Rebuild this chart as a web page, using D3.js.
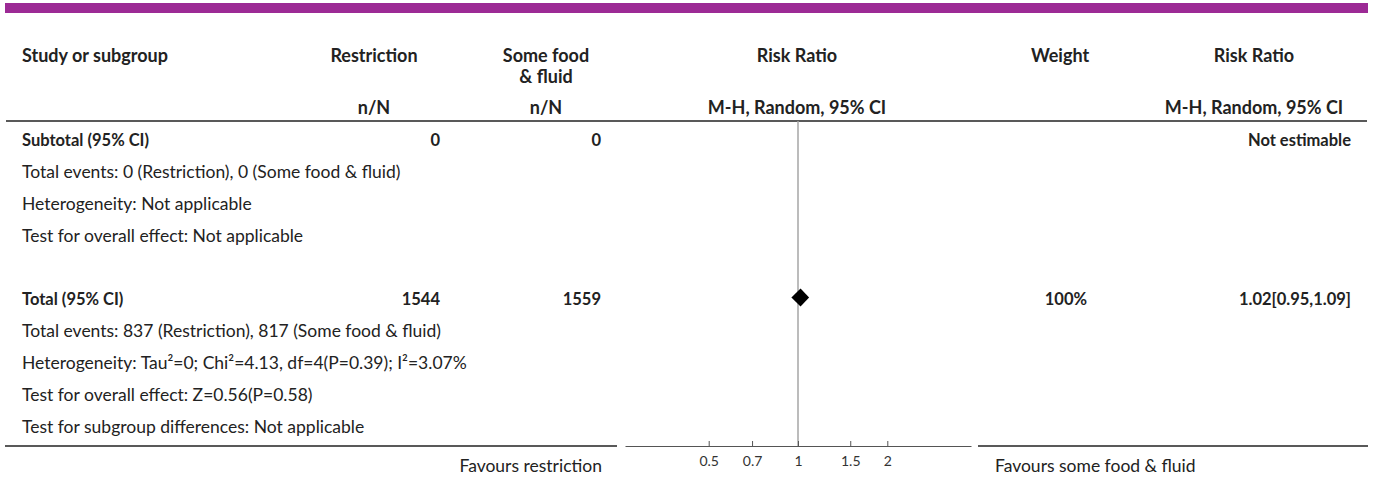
<!DOCTYPE html>
<html>
<head>
<meta charset="utf-8">
<script src="https://cdnjs.cloudflare.com/ajax/libs/d3/7.8.5/d3.min.js"></script>
<style>
  body { margin: 0; background: #fff; }
  text { font-family: Lato, "Noto Sans", sans-serif; fill: #222; }
  .hdr { font-weight: bold; font-size: 18px; }
  .cell { font-size: 17.5px; }
  .bold { font-weight: bold; font-size: 16.5px; }
  .tick text { font-size: 14px; fill: #333; }
</style>
</head>
<body>
<div id="forest"></div>
<script>

// Data
// ==============================
var rowLabels = [
  "Subtotal (95% CI)",
  "Total events: 0 (Restriction), 0 (Some food & fluid)",
  "Heterogeneity: Not applicable",
  "Test for overall effect: Not applicable",
  "",
  "Total (95% CI)",
  "Total events: 837 (Restriction), 817 (Some food & fluid)",
  "Heterogeneity: Tau\u00b2=0; Chi\u00b2=4.13, df=4(P=0.39); I\u00b2=3.07%",
  "Test for overall effect: Z=0.56(P=0.58)",
  "Test for subgroup differences: Not applicable"
];
var rowBold = [true, false, false, false, false, true, false, false, false, false];
var restrictionN = ["0", "", "", "", "", "1544", "", "", "", ""];
var someFoodN = ["0", "", "", "", "", "1559", "", "", "", ""];
var weights = ["", "", "", "", "", "100%", "", "", "", ""];
var rrText = ["Not estimable", "", "", "", "", "1.02[0.95,1.09]", "", "", "", ""];

// pooled estimates (row index, estimate, lower, upper)
var pooledRow = [5];
var pooledEst = [1.02];
var pooledLow = [0.95];
var pooledHigh = [1.09];

var tickValues = [0.5, 0.7, 1, 1.5, 2];
var favourLeft = "Favours restriction";
var favourRight = "Favours some food & fluid";

// Layout
// ==============================
var svgWidth = 1373;
var svgHeight = 477;

var svg = d3.select("#forest")
  .append("svg")
  .attr("width", svgWidth)
  .attr("height", svgHeight);

// purple band on top
svg.append("rect")
  .attr("x", 5).attr("y", 3)
  .attr("width", 1363).attr("height", 10)
  .attr("fill", "#9c2a95");

// column positions
var col = {
  study: 22,
  restrHead: 374, restrVal: 440,
  foodHead: 546, foodVal: 601,
  plot: 797,
  weightHead: 1060, weightVal: 1087,
  rrHead: 1254, rrVal: 1351
};

// Header
// ==============================
var head = svg.append("g");
function hText(x, y, t, anchor) {
  head.append("text")
    .attr("x", x).attr("y", y)
    .attr("dy", "0.35em")
    .attr("text-anchor", anchor || "middle")
    .attr("class", "hdr")
    .text(t);
}
hText(col.study, 56, "Study or subgroup", "start");
hText(col.restrHead, 56, "Restriction");
hText(col.foodHead, 56, "Some food");
hText(col.foodHead, 77, "& fluid");
hText(col.plot, 56, "Risk Ratio");
hText(col.weightHead, 56, "Weight");
hText(col.rrHead, 56, "Risk Ratio");
hText(col.restrHead, 108, "n/N");
hText(col.foodHead, 108, "n/N");
hText(col.plot, 108, "M-H, Random, 95% CI");
hText(col.rrHead, 108, "M-H, Random, 95% CI");

svg.append("line")
  .attr("x1", 6).attr("x2", 1367)
  .attr("y1", 121).attr("y2", 121)
  .attr("stroke", "#222").attr("stroke-width", 1.4);

// Scales
// ==============================
var plotLeft = 625, plotRight = 971;
var xScale = d3.scaleLog()
  .domain([1 / 3.83, 3.83])
  .range([plotLeft, plotRight]);

var yScale = d3.scaleLinear()
  .domain([0, rowLabels.length - 1])
  .range([140, 427]);

var axisY = 446;

// reference line at 1
svg.append("line")
  .attr("x1", xScale(1)).attr("x2", xScale(1))
  .attr("y1", 121).attr("y2", axisY)
  .attr("stroke", "#a6a6a6").attr("stroke-width", 1.5);

// Rows
// ==============================
var rowsG = svg.append("g");

rowsG.selectAll(".lbl")
  .data(rowLabels)
  .enter()
  .append("text")
  .attr("class", (d, i) => rowBold[i] ? "cell bold" : "cell")
  .attr("x", col.study)
  .attr("y", (d, i) => yScale(i))
  .attr("dy", "0.35em")
  .text(d => d);

function valueColumn(values, x) {
  rowsG.selectAll(null)
    .data(values)
    .enter()
    .append("text")
    .attr("class", "cell bold")
    .attr("x", x)
    .attr("y", (d, i) => yScale(i))
    .attr("dy", "0.35em")
    .attr("text-anchor", "end")
    .text(d => d);
}
valueColumn(restrictionN, col.restrVal);
valueColumn(someFoodN, col.foodVal);
valueColumn(weights, col.weightVal);
valueColumn(rrText, col.rrVal);

// Pooled diamonds
// ==============================
svg.selectAll(".diamond")
  .data(pooledRow)
  .enter()
  .append("path")
  .attr("class", "diamond")
  .attr("fill", "#000")
  .attr("d", function(r, i) {
    var y = yScale(r) - 2;
    return "M" + xScale(pooledLow[i]) + "," + y +
      "L" + xScale(pooledEst[i]) + "," + (y - 9) +
      "L" + xScale(pooledHigh[i]) + "," + y +
      "L" + xScale(pooledEst[i]) + "," + (y + 9) + "Z";
  });

// Bottom rule and axis
// ==============================
svg.append("line")
  .attr("x1", 5).attr("x2", 617)
  .attr("y1", axisY).attr("y2", axisY)
  .attr("stroke", "#222").attr("stroke-width", 1.4);
svg.append("line")
  .attr("x1", 978).attr("x2", 1368)
  .attr("y1", axisY).attr("y2", axisY)
  .attr("stroke", "#222").attr("stroke-width", 1.4);

var bottomAxis = d3.axisBottom(xScale)
  .tickValues(tickValues)
  .tickFormat(d3.format("~g"))
  .tickSize(-5)
  .tickSizeOuter(0)
  .tickPadding(10);

var axisG = svg.append("g")
  .attr("transform", `translate(0, ${axisY})`)
  .call(bottomAxis);
axisG.select(".domain").attr("stroke", "#555");
axisG.selectAll(".tick line").attr("stroke", "#555");
axisG.selectAll(".tick text").attr("font-family", null).attr("font-size", null);

svg.append("text")
  .attr("class", "cell")
  .attr("x", 602).attr("y", 466)
  .attr("dy", "0.35em")
  .attr("text-anchor", "end")
  .text(favourLeft);

svg.append("text")
  .attr("class", "cell")
  .attr("x", 995).attr("y", 466)
  .attr("dy", "0.35em")
  .text(favourRight);

</script>
</body>
</html>
